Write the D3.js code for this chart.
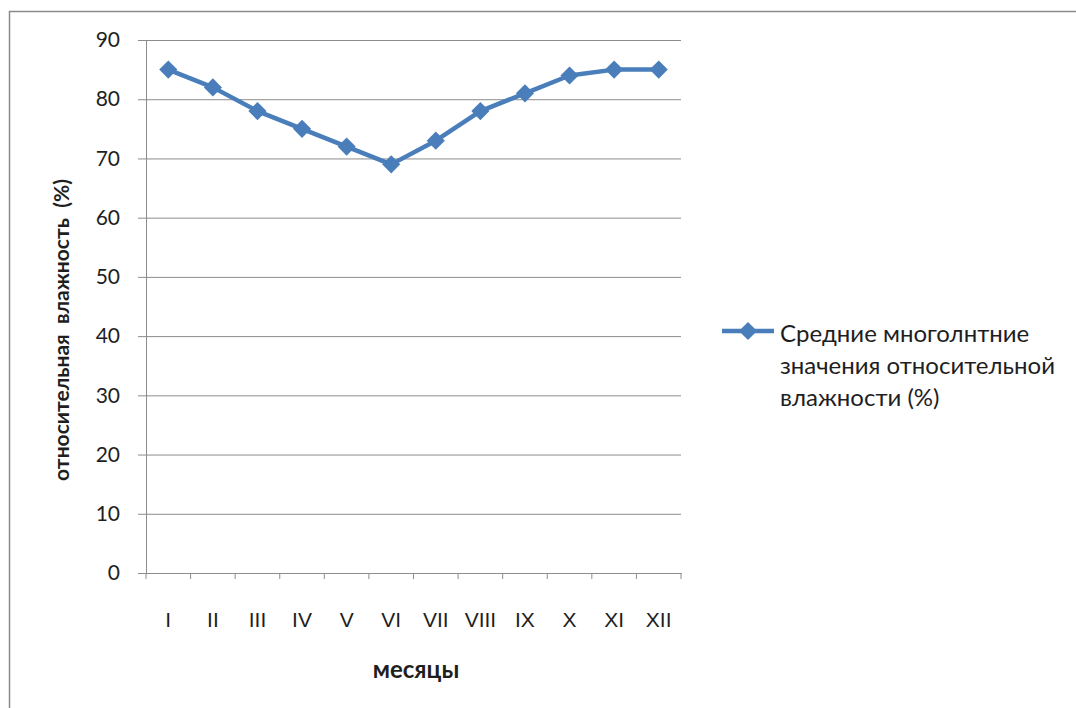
<!DOCTYPE html>
<html>
<head>
<meta charset="utf-8">
<script src="https://cdn.jsdelivr.net/npm/d3@7"></script>
<style>
  body { margin: 0; background: #fff; }
  svg { display: block; font-family: Lato, "Open Sans", sans-serif; }
</style>
</head>
<body>
<div id="chart"></div>
<script>
// Data
const months = ['I', 'II', 'III', 'IV', 'V', 'VI', 'VII', 'VIII', 'IX', 'X', 'XI', 'XII'];
const humidity = [85, 82, 78, 75, 72, 69, 73, 78, 81, 84, 85, 85];
const yTicks = [0, 10, 20, 30, 40, 50, 60, 70, 80, 90];
const legendLines = ['Средние многолнтние', 'значения относительной', 'влажности (%)'];

const W = 1076, H = 708;
const margin = { top: 40, left: 146, right: 395, bottom: 135 };
const width = W - margin.left - margin.right;
const height = H - margin.top - margin.bottom;
const blue = '#4a7ebb';
const grid = '#8c8c8c';
const ink = '#1e1e1e';

const svg = d3.select('#chart').append('svg')
    .attr('width', W)
    .attr('height', H);

// outer frame (only left and top visible)
svg.append('path')
    .attr('d', `M9.5,${H} V11.5 H${W}`)
    .attr('fill', 'none')
    .attr('stroke', '#8a8a8a')
    .attr('stroke-width', 1.5);

const g = svg.append('g')
    .attr('transform', `translate(${margin.left},${margin.top})`);

// Scales
const x = d3.scaleBand().domain(months).range([0, width]);
const y = d3.scaleLinear().domain([0, 90]).range([height, 0]);

// Gridlines + y axis
const yAxis = d3.axisLeft(y).tickValues(yTicks).tickSize(-width).tickPadding(26);
g.append('g')
    .attr('class', 'y-axis')
    .call(yAxis)
    .call(s => s.select('.domain').attr('stroke', grid))
    .call(s => s.selectAll('.tick line').attr('stroke', grid).attr('x1', -8))
    .call(s => s.selectAll('.tick text')
        .attr('font-size', 21).attr('fill', ink).attr('font-family', 'Lato, sans-serif'));

// x axis
const xAxis = d3.axisBottom(x).tickSize(0).tickPadding(39);
const xg = g.append('g')
    .attr('transform', `translate(0,${height})`)
    .call(xAxis);
xg.select('.domain').attr('stroke', grid);
xg.selectAll('.tick text').attr('font-size', 21).attr('fill', ink);
// boundary ticks
xg.selectAll('.bound')
    .data(months.concat(['end']))
    .enter().append('line')
    .attr('class', 'bound')
    .attr('x1', (d, i) => i * x.step())
    .attr('x2', (d, i) => i * x.step())
    .attr('y1', 0).attr('y2', 6)
    .attr('stroke', grid);

// Line
const line = d3.line()
    .x((d, i) => x(months[i]) + x.bandwidth() / 2)
    .y(d => y(d));

g.append('path')
    .datum(humidity)
    .attr('fill', 'none')
    .attr('stroke', blue)
    .attr('stroke-width', 4.5)
    .attr('stroke-linejoin', 'round')
    .attr('d', line);

// diamond marker = square turned 45 degrees
const diamond = d3.symbol().type(d3.symbolSquare).size(165);
g.selectAll('.pt')
    .data(humidity)
    .enter().append('path')
    .attr('class', 'pt')
    .attr('d', diamond)
    .attr('fill', blue)
    .attr('transform', (d, i) => `translate(${x(months[i]) + x.bandwidth() / 2},${y(d)}) rotate(45)`);

// Axis titles
svg.append('text')
    .attr('transform', `translate(69,330) rotate(-90)`)
    .attr('text-anchor', 'middle')
    .attr('font-size', 21)
    .attr('font-weight', 'bold')
    .attr('fill', ink)
    .style('white-space', 'pre')
    .text('относительная  влажность  (%)');

svg.append('text')
    .attr('x', 416)
    .attr('y', 678)
    .attr('text-anchor', 'middle')
    .attr('font-size', 24)
    .attr('font-weight', 'bold')
    .attr('fill', ink)
    .text('месяцы');

// Legend
const lg = svg.append('g').attr('transform', 'translate(722,331)');
lg.append('line')
    .attr('x1', 0).attr('x2', 52)
    .attr('stroke', blue).attr('stroke-width', 4.5);
lg.append('path')
    .attr('d', diamond)
    .attr('fill', blue)
    .attr('transform', 'translate(26,0) rotate(45)');
lg.selectAll('.lt')
    .data(legendLines)
    .enter().append('text')
    .attr('class', 'lt')
    .attr('x', 58)
    .attr('y', (d, i) => 11 + i * 32)
    .attr('font-size', 24)
    .attr('fill', ink)
    .text(d => d);
</script>
</body>
</html>
